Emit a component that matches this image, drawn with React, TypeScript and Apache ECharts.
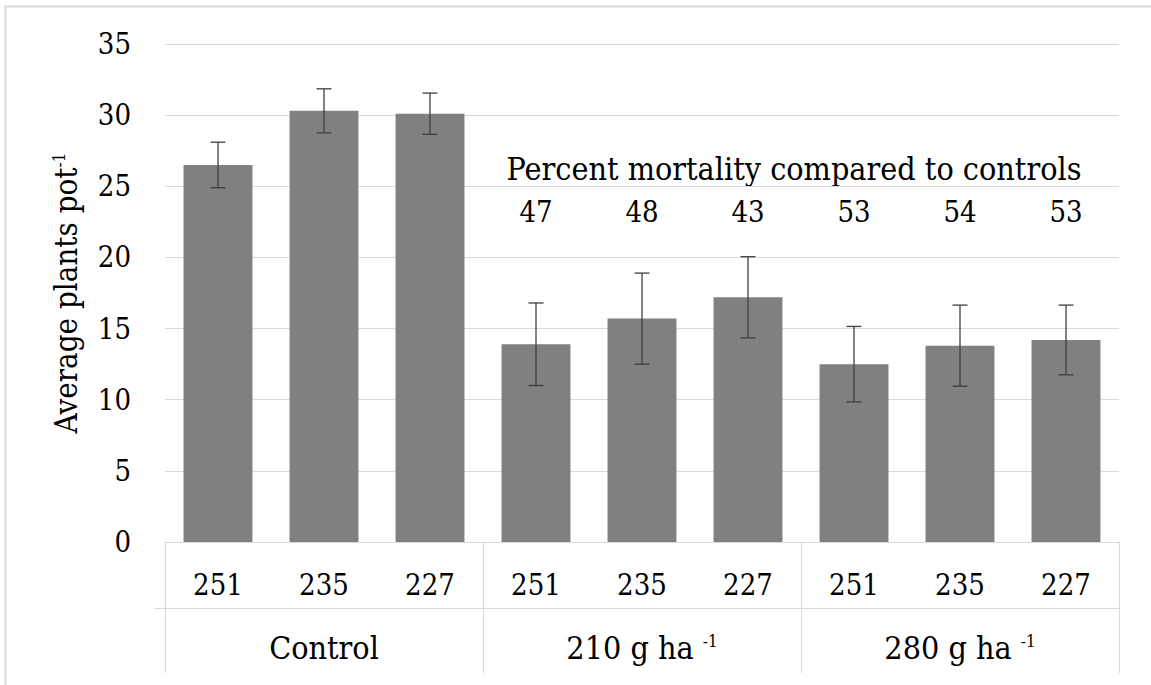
import React, { useEffect, useRef } from "react";
import * as echarts from "echarts";

// Bottom-row category labels (cultivar / line codes) and their treatment groups
const categories = ["251", "235", "227", "251", "235", "227", "251", "235", "227"];
const groupNames = ["Control", "210 g ha", "280 g ha"];
const groupSuperscripts = ["", "-1", "-1"];

// Average plants per pot and the half-width of each error bar
const means = [26.5, 30.3, 30.1, 13.9, 15.7, 17.2, 12.5, 13.8, 14.2];
const errors = [1.6, 1.55, 1.45, 2.9, 3.2, 2.85, 2.65, 2.85, 2.45];

// Percent mortality compared to controls (treated entries only)
const mortality: (number | null)[] = [null, null, null, 47, 48, 43, 53, 54, 53];

// Value axis ticks
const yMin = 0;
const yMax = 35;
const yStep = 5;

const FONT = "DejaVu Serif Condensed";
const TEXT = "#000000";
const GRID_GRAY = "#d9d9d9";

export default function App() {
  const ref = useRef<HTMLDivElement>(null);

  useEffect(() => {
    document.body.style.margin = "0";
    if (!ref.current) return;
    const chart = echarts.init(ref.current, undefined, { renderer: "svg" });

    const errorData = means.map((m, i) => [i, m - errors[i], m + errors[i]]);
    const mortalityLevel = 23.2;
    const mortalityData = mortality
      .map((m, i) => (m == null ? null : [i, mortalityLevel, m]))
      .filter((d) => d !== null);

    const option: any = {
      animation: false,
      backgroundColor: "#ffffff",
      textStyle: { fontFamily: FONT },
      grid: { left: 165, right: 32, top: 44, bottom: 143 },
      xAxis: [
        {
          type: "category",
          data: categories,
          position: "bottom",
          axisLine: { show: true, lineStyle: { color: GRID_GRAY, width: 1 } },
          axisTick: { show: false },
          axisLabel: {
            margin: 28,
            fontSize: 29,
            fontFamily: FONT,
            color: TEXT,
            interval: 0,
          },
          splitLine: { show: false },
        },
        {
          type: "category",
          data: groupNames.map((g, i) =>
            groupSuperscripts[i] ? `{a|${g} }{s|${groupSuperscripts[i]}}` : `{a|${g}}`
          ),
          position: "bottom",
          axisLine: { show: false },
          axisTick: {
            show: true,
            length: 131,
            lineStyle: { color: GRID_GRAY, width: 1 },
          },
          axisLabel: {
            margin: 90,
            interval: 0,
            color: TEXT,
            fontFamily: FONT,
            fontSize: 32,
            rich: {
              a: { fontSize: 32, fontFamily: FONT, color: TEXT },
              s: { fontSize: 17, fontFamily: FONT, color: TEXT, verticalAlign: "top" },
            },
          },
          splitLine: { show: false },
        },
      ],
      yAxis: {
        type: "value",
        min: yMin,
        max: yMax,
        interval: yStep,
        axisLine: { show: false },
        axisTick: { show: false },
        axisLabel: { margin: 34, fontSize: 29, fontFamily: FONT, color: TEXT },
        splitLine: { show: true, lineStyle: { color: GRID_GRAY, width: 1 } },
        name: "{a|Average plants pot}{s|-1}",
        nameLocation: "middle",
        nameRotate: 90,
        nameGap: 84,
        nameTextStyle: {
          fontFamily: FONT,
          fontSize: 31,
          color: TEXT,
          rich: {
            a: { fontSize: 31, fontFamily: FONT, color: TEXT },
            s: { fontSize: 17, fontFamily: FONT, color: TEXT, verticalAlign: "top" },
          },
        },
      },
      series: [
        {
          type: "bar",
          xAxisIndex: 0,
          data: means,
          barCategoryGap: "35%",
          itemStyle: { color: "#808080" },
        },
        {
          type: "custom",
          xAxisIndex: 0,
          data: errorData,
          encode: { x: 0, y: [1, 2] },
          z: 5,
          renderItem: (_params: any, api: any) => {
            const idx = api.value(0);
            const lo = api.coord([idx, api.value(1)]);
            const hi = api.coord([idx, api.value(2)]);
            const half = 7.5;
            const style = { stroke: "#3f3f3f", lineWidth: 1.3 };
            return {
              type: "group",
              children: [
                { type: "line", shape: { x1: hi[0], y1: hi[1], x2: lo[0], y2: lo[1] }, style },
                { type: "line", shape: { x1: hi[0] - half, y1: hi[1], x2: hi[0] + half, y2: hi[1] }, style },
                { type: "line", shape: { x1: lo[0] - half, y1: lo[1], x2: lo[0] + half, y2: lo[1] }, style },
              ],
            };
          },
        },
        {
          type: "scatter",
          xAxisIndex: 0,
          data: mortalityData,
          symbolSize: 1,
          itemStyle: { color: "rgba(0,0,0,0)", opacity: 1 },
          z: 6,
          label: {
            show: true,
            position: "inside",
            formatter: (p: any) => String(p.value[2]),
            fontSize: 29,
            fontFamily: FONT,
            color: TEXT,
            opacity: 1,
            textBorderWidth: 0,
          },
          emphasis: { disabled: true },
        },
      ],
      graphic: [
        // outer frame (top and left edges)
        { type: "line", shape: { x1: 4, y1: 6.5, x2: 1151, y2: 6.5 }, style: { stroke: GRID_GRAY, lineWidth: 2 } },
        { type: "line", shape: { x1: 5.5, y1: 6, x2: 5.5, y2: 685 }, style: { stroke: GRID_GRAY, lineWidth: 2 } },
        // separator between the two label rows
        { type: "line", shape: { x1: 155, y1: 608.5, x2: 1119, y2: 608.5 }, style: { stroke: GRID_GRAY, lineWidth: 1 } },
        {
          type: "text",
          x: 794,
          y: 169,
          style: {
            text: "Percent mortality compared to controls",
            fontSize: 32,
            fontFamily: FONT,
            fill: TEXT,
            align: "center",
            verticalAlign: "middle",
          },
        },
      ],
    };

    chart.setOption(option);
    return () => chart.dispose();
  }, []);

  return <div ref={ref} style={{ width: 1151, height: 685 }} />;
}
